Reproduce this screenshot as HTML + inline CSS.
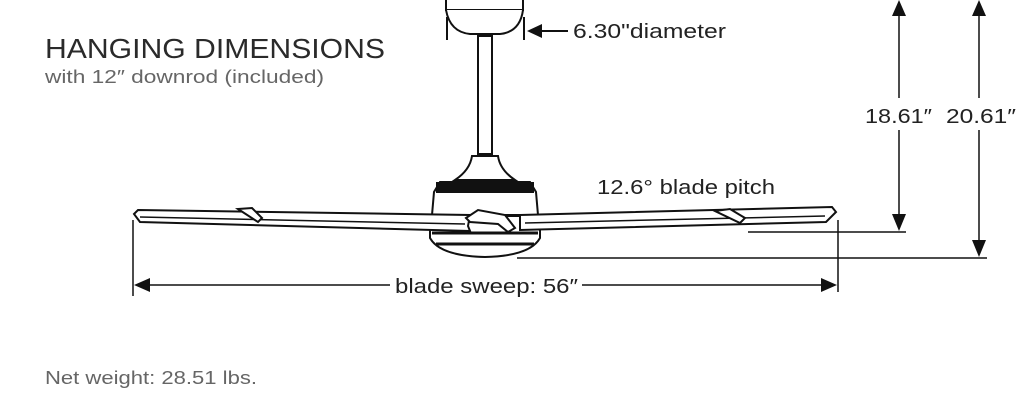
<!DOCTYPE html>
<html><head><style>
body{margin:0;background:#fff;width:1024px;height:416px;overflow:hidden}
svg{display:block}
text{font-family:"Liberation Sans",sans-serif}
</style></head><body>
<svg width="1024" height="416" viewBox="0 0 1024 416" xmlns="http://www.w3.org/2000/svg">
<g fill="#222">
<text x="45" y="58" font-size="28" fill="#2a2a2a" textLength="340" lengthAdjust="spacingAndGlyphs">HANGING DIMENSIONS</text>
<text x="45" y="83" font-size="18" fill="#666" textLength="279" lengthAdjust="spacingAndGlyphs">with 12″ downrod (included)</text>
<text x="45" y="384" font-size="18" fill="#666" textLength="212" lengthAdjust="spacingAndGlyphs">Net weight: 28.51 lbs.</text>
<text x="573" y="38" font-size="20" textLength="153" lengthAdjust="spacingAndGlyphs">6.30"diameter</text>
<text x="597" y="194" font-size="20" textLength="178" lengthAdjust="spacingAndGlyphs">12.6° blade pitch</text>
<text x="395" y="293" font-size="20" textLength="183" lengthAdjust="spacingAndGlyphs">blade sweep: 56″</text>
<text x="865" y="123" font-size="20" textLength="67" lengthAdjust="spacingAndGlyphs">18.61″</text>
<text x="946" y="123" font-size="20" textLength="70" lengthAdjust="spacingAndGlyphs">20.61″</text>
</g>
<g stroke="#111" stroke-width="2" fill="none">
<path d="M446 0 L446 10 L523 10 L523 0"/>
<path d="M446 10 Q450 32 470 34 L500 34 Q520 32 523 10" fill="#fff"/>
<line x1="447" y1="17" x2="447" y2="40"/><line x1="524" y1="17" x2="524" y2="40"/>
<line x1="535" y1="31" x2="568" y2="31"/>
<rect x="478" y="36" width="14" height="118" fill="#fff"/>
<path d="M472 156 L498 156 Q500 170 515 180 L455 180 Q470 170 472 156 Z" fill="#fff"/>
<path d="M440 182 L530 182 L536 192 L538 215 L432 215 L434 192 Z" fill="#fff"/>
<rect x="437" y="183" width="96" height="9" fill="#111"/>
<path d="M430 216 L540 216 L540 238 Q530 256 485 257 Q440 256 430 238 Z" fill="#fff"/>
<line x1="432" y1="233" x2="538" y2="233" stroke-width="3"/>
<line x1="436" y1="244" x2="534" y2="244" stroke-width="3"/>
<path d="M138 210 L470 215 L468 226 L470 231 L140 222 L134 214 Z" fill="#fff"/>
<line x1="140" y1="217" x2="465" y2="224" stroke-width="1.5"/>
<path d="M238 209 L252 208 L262 218 L258 222 Z" fill="#fff"/>
<path d="M520 215 L832 207 L836 212 L826 222 L520 230 Z" fill="#fff"/>
<line x1="525" y1="223" x2="825" y2="216" stroke-width="1.5"/>
<path d="M715 211 L730 209 L745 218 L740 223 Z" fill="#fff"/>
<path d="M466 218 L478 210 L505 215 L515 228 L508 232 L498 224 L470 222 Z" fill="#fff"/>
<line x1="133" y1="220" x2="133" y2="296" stroke-width="1.5"/>
<line x1="838" y1="220" x2="838" y2="292" stroke-width="1.5"/>
<line x1="148" y1="285" x2="390" y2="285" stroke-width="1.5"/>
<line x1="582" y1="285" x2="822" y2="285" stroke-width="1.5"/>
<line x1="748" y1="232" x2="906" y2="232" stroke-width="1.5"/>
<line x1="517" y1="258" x2="987" y2="258" stroke-width="1.5"/>
<line x1="899" y1="12" x2="899" y2="98" stroke-width="1.5"/>
<line x1="899" y1="130" x2="899" y2="218" stroke-width="1.5"/>
<line x1="979" y1="12" x2="979" y2="98" stroke-width="1.5"/>
<line x1="979" y1="130" x2="979" y2="244" stroke-width="1.5"/>
</g>
<g fill="#111">
<polygon points="527,31 542,24 542,38"/>
<polygon points="134,285 150,278 150,292"/>
<polygon points="837,285 821,278 821,292"/>
<polygon points="899,0 892,16 906,16"/>
<polygon points="899,231 892,214 906,214"/>
<polygon points="979,0 972,16 986,16"/>
<polygon points="979,257 972,240 986,240"/>
</g>
</svg>
</body></html>
